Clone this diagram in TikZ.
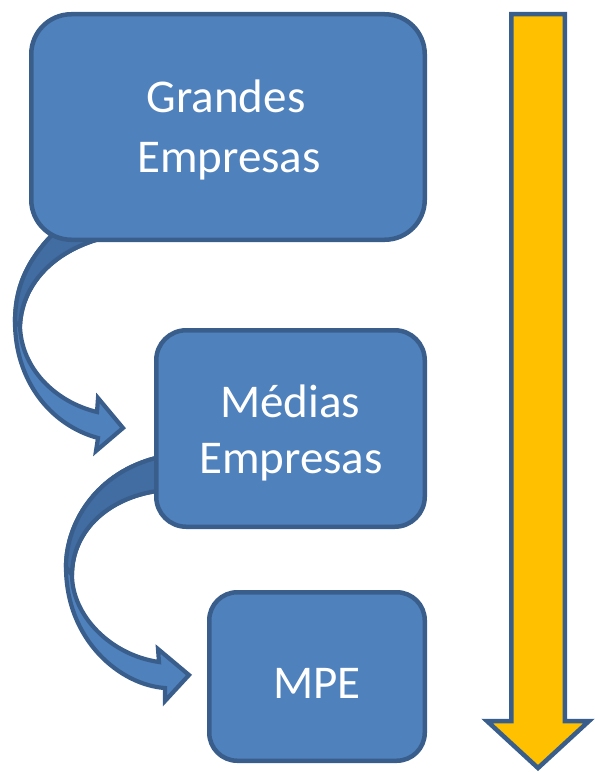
\documentclass[tikz,border=0pt]{standalone}
\usepackage{fontspec}
\setmainfont{Carlito}
\definecolor{boxfill}{HTML}{4F81BD}
\definecolor{boxline}{HTML}{3A5E8C}
\definecolor{backfill}{HTML}{416DA2}
\definecolor{arrowfill}{HTML}{FFC000}
\begin{document}
\begin{tikzpicture}[x=1pt,y=-1pt,
  box/.style={draw=boxline, fill=boxfill, line width=4.5pt, inner sep=0pt},
  lbl/.style={text=white, anchor=base, inner sep=0pt, font=\fontsize{47}{58}\selectfont},
  bent/.style={draw=boxline, fill=boxfill, line width=4.2pt, line join=miter},
  bentback/.style={draw=boxline, fill=backfill, line width=4.2pt, line join=round},
  bigarrow/.style={draw=boxline, fill=arrowfill, line width=4.5pt, line join=miter}]
\useasboundingbox (0,0) rectangle (594,773);

% curved arrow 1 (Grandes -> Medias)
\draw[bent] (55,232) .. controls (25,262) and (15,290) .. (15,322)
  .. controls (15,380) and (50,425) .. (98,438)
  -- (96,451) -- (123,428) -- (98,398) -- (97,412)
  .. controls (55,402) and (21,368) .. (20,326)
  .. controls (22,280) and (60,246) .. (112,236) -- cycle;
\draw[bentback] (55,232) .. controls (25,262) and (15,290) .. (15,322)
  -- (20,326)
  .. controls (22,280) and (60,246) .. (112,236) -- cycle;

% curved arrow 2 (Medias -> MPE)
\draw[bent] (165,456) .. controls (100,468) and (66,520) .. (66,567)
  .. controls (66,640) and (120,685) .. (165,688)
  -- (165,701) -- (189,675) -- (158,649) -- (159,662)
  .. controls (110,655) and (72,615) .. (72,575)
  .. controls (72,530) and (110,495) .. (165,490) -- cycle;
\draw[bentback] (165,456) .. controls (100,468) and (66,520) .. (66,567)
  -- (72,575)
  .. controls (72,530) and (110,495) .. (165,490) -- cycle;

% boxes
\node[box, rounded corners=40pt, minimum width=393.5pt, minimum height=225.5pt]
  (grandes) at (228,127) {};
\node[box, rounded corners=30pt, minimum width=268.5pt, minimum height=196.5pt]
  (medias) at (290.5,428.5) {};
\node[box, rounded corners=28pt, minimum width=215.5pt, minimum height=168.5pt]
  (mpe) at (317,676.5) {};

% texts
\node[lbl] (g1) at (226,113) {Grandes};
\node[lbl] (g2) at (229,172) {Empresas};
\node[lbl] (m1) at (290,417) {Médias};
\node[lbl] (m2) at (291,473) {Empresas};
\node[lbl] (p1) at (317,698) {MPE};

% big downward arrow
\draw[bigarrow] (511.25,14.25) -- (564.75,14.25) -- (564.75,721) -- (589,721)
  -- (538,768) -- (487,721) -- (511.25,721) -- cycle;
\end{tikzpicture}
\end{document}
